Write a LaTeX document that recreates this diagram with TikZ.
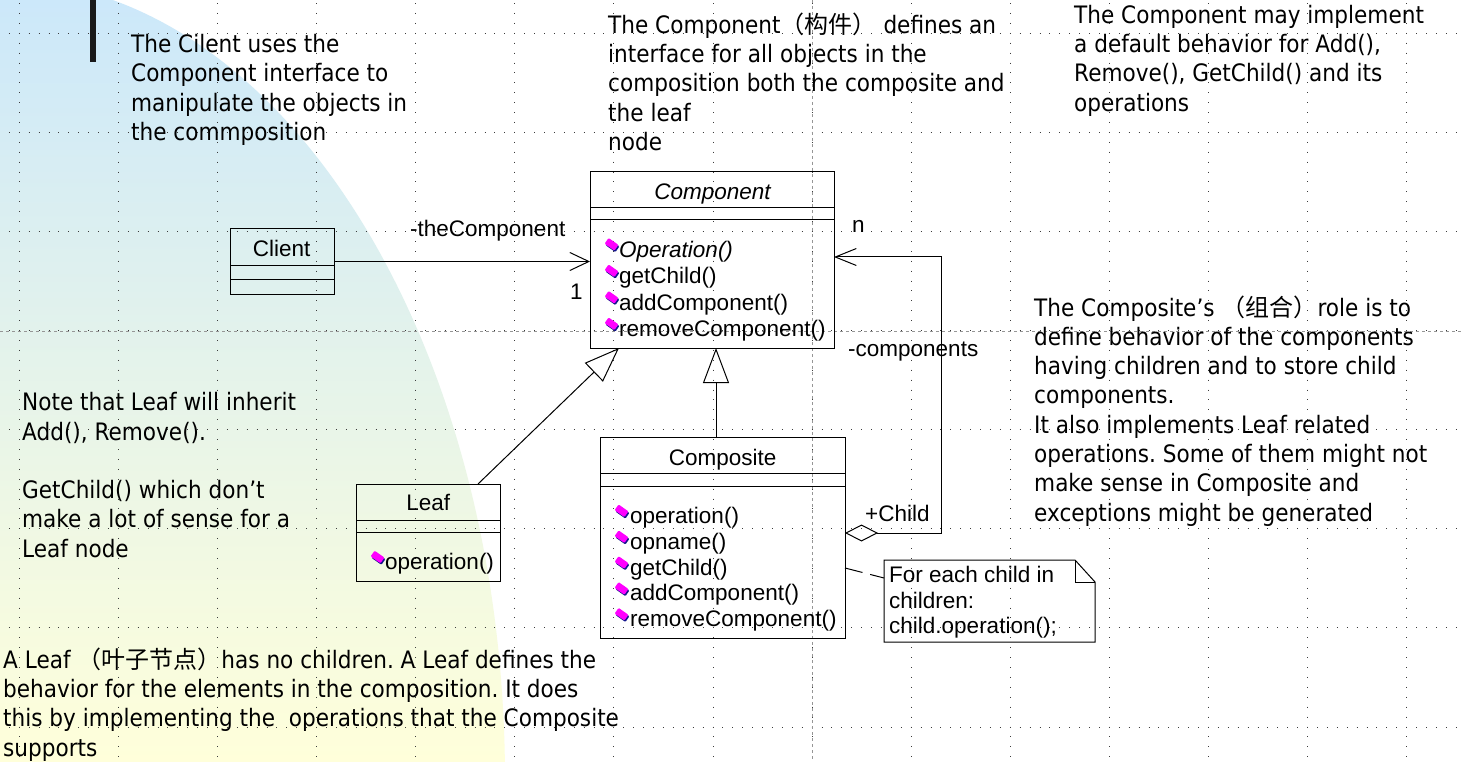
\documentclass[tikz,border=0pt]{standalone}
\usepackage{fontspec}
\setmainfont{Liberation Sans}
\newfontfamily\notefont[FakeStretch=0.9]{DejaVu Sans}
\newfontfamily\cjk{Noto Sans CJK SC}
\usetikzlibrary{arrows.meta}
\frenchspacing
\definecolor{bgtop}{RGB}{204,232,250}
\definecolor{bgbot}{RGB}{255,255,218}
\definecolor{gridc}{RGB}{60,60,60}
\definecolor{dashc}{RGB}{150,150,150}
\definecolor{iconm}{RGB}{255,0,255}
\definecolor{iconb}{RGB}{20,20,140}
\newcommand\txtlines[1]{\vtop{\halign{##\hfil\cr#1\crcr}}}
\newcommand\opicon[2]{%
  \fill[iconb,rotate around={-35:(#1+1,#2+1.5)},rounded corners=1] (#1+1-6,#2+1.5-3.5) rectangle (#1+1+6,#2+1.5+3.5);
  \fill[iconm,rotate around={-35:(#1,#2)},rounded corners=1] (#1-6,#2-3.5) rectangle (#1+6,#2+3.5);
}
\tikzset{
  griddot/.style={gridc, line width=1pt, dash pattern=on 1pt off 8.91pt},
  guide/.style={dashc, line width=1pt, dash pattern=on 3pt off 3pt},
  notetxt/.style={font={\notefont\fontsize{24}{29.3}\selectfont}, inner sep=0, anchor=base west},
  uml/.style={font={\fontsize{22.5}{25.3}\selectfont}, inner sep=0, anchor=base west},
  umlc/.style={uml, anchor=base},
  umlbox/.style={draw, line width=1pt, inner sep=0, outer sep=0, anchor=north west},
  sep/.style={line width=1pt},
  assoc/.style={line width=1pt, -{Straight Barb[length=19pt,width=18pt,line width=1pt]}},
  gen/.style={line width=1pt, -{Triangle[open,length=35pt,width=26pt,line width=1pt]}},
  agg/.style={line width=1pt, {Diamond[open,length=33pt,width=17pt,line width=1pt]}-{Straight Barb[length=21pt,width=17pt,line width=1pt]}},
  anchorline/.style={line width=1pt, dash pattern=on 18pt off 8pt},
}
\begin{document}
\begin{tikzpicture}[x=1pt,y=-1pt]
\useasboundingbox (0,0) rectangle (1462,762);
\fill[white] (0,0) rectangle (1462,762);
% background gradient
\begin{scope}
  \clip (0,780) ellipse [x radius=505, y radius=800];
  \shade[top color=bgtop, bottom color=bgbot] (0,0) rectangle (520,762);
\end{scope}
% dotted grid
\begin{scope}
  \clip (0,0) rectangle (1462,762);
  \foreach \k in {0,...,7} \draw[griddot] (-1.02,33.3+99.1*\k) -- (1470,33.3+99.1*\k);
  \foreach \k in {0,...,14} \draw[griddot] (19.3+99.1*\k,-6.84) -- (19.3+99.1*\k,770);
  \draw[guide] (0,331.7) -- (1462,331.7);
  \draw[guide] (812.7,0) -- (812.7,762);
\end{scope}
% black bar
\fill[black!90] (89.5,0) rectangle (96,62);
% annotation texts
\node[notetxt] (t1) at (131,52.7) {\txtlines{The Cilent uses the\cr Component interface to\cr manipulate the objects in\cr the commposition}};
\node[notetxt] (t2) at (608,33.3) {\txtlines{The Component{\cjk （构件）} defines an\cr interface for all objects in the\cr composition both the composite and\cr the leaf\cr node}};
\node[notetxt] (t3) at (1074,23.3) {\txtlines{The Component may implement\cr a default behavior for Add(),\cr Remove(), GetChild() and its\cr operations}};
\node[notetxt] (t4) at (1034,316) {\txtlines{The Composite’s {\cjk （组合）}role is to\cr define behavior of the components\cr having children and to store child\cr components.\cr It also implements Leaf related\cr operations. Some of them might not\cr make sense in Composite and\cr exceptions might be generated}};
\node[notetxt] (t5) at (22,410.7) {\txtlines{Note that Leaf will inherit\cr Add(), Remove().\cr\cr GetChild() which don’t\cr make a lot of sense for a\cr Leaf node}};
\node[notetxt] (t6) at (3,668.3) {\txtlines{A Leaf {\cjk （叶子节点）}has no children. A Leaf defines the\cr behavior for the elements in the composition. It does\cr this by implementing the\ \ operations that the Composite\cr supports}};
% Client
\node[umlbox, minimum width=104, minimum height=65] (Client) at (230,229) {};
\draw[sep] ([yshift=-36]Client.north west) -- ([yshift=-36]Client.north east);
\draw[sep] ([yshift=-50]Client.north west) -- ([yshift=-50]Client.north east);
\node[umlc] (clientname) at (281.7,256) {Client};
% Component
\node[umlbox, minimum width=244, minimum height=176] (Component) at (590,172) {};
\draw[sep] ([yshift=-36]Component.north west) -- ([yshift=-36]Component.north east);
\draw[sep] ([yshift=-48]Component.north west) -- ([yshift=-48]Component.north east);
\node[umlc] (compname) at (712.5,199.3) {\itshape Component};
\node[uml] (cm1) at (619,257.3) {\itshape Operation()};
\node[uml] (cm2) at (619,283.8) {getChild()};
\node[uml] (cm3) at (619,310.3) {addComponent()};
\node[uml] (cm4) at (619,336.8) {removeComponent()};
\foreach \b in {257.3,283.8,310.3,336.8} {\opicon{611.5}{\b-13}}
% Leaf
\node[umlbox, minimum width=144, minimum height=97] (Leaf) at (356,484) {};
\draw[sep] ([yshift=-36]Leaf.north west) -- ([yshift=-36]Leaf.north east);
\draw[sep] ([yshift=-48]Leaf.north west) -- ([yshift=-48]Leaf.north east);
\node[umlc] (leafname) at (428.3,510.7) {Leaf};
\node[uml] (lm1) at (385,569.3) {operation()};
\opicon{377.5}{557}
% Composite
\node[umlbox, minimum width=245, minimum height=201] (Composite) at (600,437) {};
\draw[sep] ([yshift=-36]Composite.north west) -- ([yshift=-36]Composite.north east);
\draw[sep] ([yshift=-49]Composite.north west) -- ([yshift=-49]Composite.north east);
\node[umlc] (cpname) at (722.7,465) {Composite};
\node[uml] (pm1) at (630,523.3) {operation()};
\node[uml] (pm2) at (630,549.2) {opname()};
\node[uml] (pm3) at (630,575) {getChild()};
\node[uml] (pm4) at (630,600.9) {addComponent()};
\node[uml] (pm5) at (630,626.7) {removeComponent()};
\foreach \b in {523.3,549.2,575,600.9,626.7} {\opicon{621.5}{\b-12.5}}
% Note
\node[inner sep=0, outer sep=0, minimum width=211, minimum height=82, anchor=north west] (Note) at (884,560) {};
\draw[line width=1pt] (Note.north west) -- ([xshift=-20]Note.north east) -- ([yshift=-22]Note.north east) -- (Note.south east) -- (Note.south west) -- cycle;
\draw[line width=1pt] ([xshift=-20]Note.north east) -- ([xshift=-20,yshift=-22]Note.north east) -- ([yshift=-22]Note.north east);
\node[uml] (notetext) at (889,582.7) {\txtlines{For each child in\cr children:\cr child.operation();}};
% connectors
\draw[assoc] (Client.east) -- (Client.east -| Component.west);
\node[uml] (lblthe) at (410,236.7) {-theComponent};
\node[uml] (lblone) at (570,299) {1};
\draw[gen] ([xshift=-22]Leaf.north east) -- ([xshift=29]Component.south west);
\draw[gen] ([xshift=-6.5]Composite.north) -- ([xshift=4]Component.south);
\draw[agg] ([yshift=4.5]Composite.east) -- ++(96,0) |- ([yshift=3]Component.east);
\node[uml] (lbln) at (852,233) {n};
\node[uml] (lblcomps) at (848,356) {-components};
\node[uml] (lblchild) at (865,521.5) {+Child};
\draw[anchorline] ([yshift=-30.5]Composite.east) -- ([yshift=23]Note.west);
\end{tikzpicture}
\end{document}
